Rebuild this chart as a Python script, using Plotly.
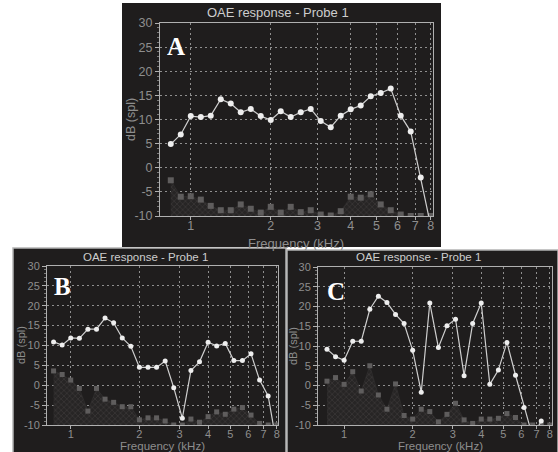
import plotly.graph_objects as go
import math

W, H = 558, 452

# ---------------- data ----------------
freq_khz = [0.841, 0.917, 1.000, 1.091, 1.189, 1.297, 1.414, 1.542, 1.682, 1.834,
            2.000, 2.181, 2.378, 2.594, 2.828, 3.084, 3.364, 3.668, 4.000, 4.362,
            4.757, 5.187, 5.657, 6.169, 6.727, 7.336, 8.000]

resp_a = [4.9, 6.9, 10.7, 10.5, 10.8, 14.2, 13.3, 11.5, 12.2, 10.7,
          9.9, 11.7, 10.5, 11.5, 12.2, 9.7, 8.4, 10.8, 12.1, 12.9,
          14.8, 15.5, 16.4, 10.8, 7.5, -2.0, -12.0]
noise_a = [-2.6, -6.0, -5.9, -6.6, -7.9, -8.8, -8.8, -7.6, -8.5, -9.3,
           -8.1, -9.3, -8.1, -9.2, -8.8, -9.7, -9.9, -9.0, -6.0, -6.2,
           -5.5, -7.6, -8.8, -9.7, -10.0, -10.0, -10.0]

resp_b = [10.9, 10.1, 11.9, 11.8, 14.1, 14.1, 16.9, 15.7, 11.9, 9.8,
          4.5, 4.5, 4.5, 6.1, -0.6, -8.3, 3.7, 5.9, 10.8, 9.9,
          10.5, 6.2, 6.2, 7.9, 1.3, -2.7, -15.0]
noise_b = [3.6, 2.7, 1.3, -0.8, -6.5, -0.8, -3.5, -4.3, -5.4, -5.4,
           -8.7, -8.2, -8.2, -9.0, -10.0, -10.0, -8.5, -9.3, -7.9, -6.7,
           -7.3, -6.0, -5.6, -7.5, -9.6, -10.0, -10.0]

resp_c = [9.2, 7.3, 6.4, 11.2, 11.2, 19.3, 22.6, 21.0, 18.0, 15.7,
          8.9, -1.7, 20.9, 9.6, 15.1, 16.8, 2.5, 15.7, 20.9, 0.3,
          3.9, 10.9, 2.6, -5.6, -13.0, -9.0, None]
noise_c = [1.1, 2.0, 0.3, 3.5, -1.4, 5.0, -2.4, -6.0, 0.4, -7.6,
           -8.5, -6.0, -6.6, -9.2, -7.3, -4.5, -8.7, -9.6, -8.5, -8.5,
           -8.3, -7.1, -8.1, -10.0, -10.0, -10.0, -10.0]

x_ticks = [1, 2, 3, 4, 5, 6, 7, 8]
x_tick_labels = ["1", "2", "3", "4", "5", "6", "7", "8"]
y_ticks = [-10, -5, 0, 5, 10, 15, 20, 25, 30]
y_tick_labels = ["-10", "-5", "0", "5", "10", "15", "20", "25", "30"]
Y_MIN, Y_MAX = -10, 30

title_text = "OAE response - Probe 1"
x_title = "Frequency (kHz)"
y_title = "dB (spl)"
panel_letters = ["A", "B", "C"]

# ---------------- layout helpers ----------------
def fx(p):
    return p / W

def fy(p):
    return 1 - p / H

BG = "#1f1d1d"
GRID = "#8f8f8f"
AXLINE = "#b0b0b0"
TICKC = "#8e8e8e"
TITLEC = "#cdcdcd"
FONT = "Liberation Sans, Arial, sans-serif"

panels = [
    dict(ax="", plot=(160, 23, 433, 216), box=(122, 3, 441, 247), border=False,
         xr=(0.766, 8.16), fs=12.5, msize=6, ssize=6, xstand=-5,
         title=(278, 12), xt=(296, 243), yt=(131, 120), letter=(176, 46)),
    dict(ax="2", plot=(47, 266, 278, 425), box=(13, 248, 286, 453), border=True,
         xr=(0.787, 8.1), fs=11, msize=5, ssize=5, xstand=-4,
         title=(145, 257), xt=(162, 446), yt=(21, 345), letter=(62, 286)),
    dict(ax="3", plot=(318, 267, 552, 425), box=(287, 250, 558, 453), border=True,
         xr=(0.768, 8.18), fs=11, msize=5, ssize=5, xstand=-4,
         title=(418, 257), xt=(440, 446), yt=(293, 346), letter=(336, 291)),
]
resp_all = [resp_a, resp_b, resp_c]
noise_all = [noise_a, noise_b, noise_c]

fig = go.Figure()
shapes = []
annotations = []
layout_axes = {}

for i, p in enumerate(panels):
    sfx = p["ax"]
    xa = "x" + sfx
    ya = "y" + sfx
    baseline = [Y_MIN for _ in freq_khz]
    fig.add_trace(go.Scatter(x=freq_khz, y=baseline, xaxis=xa, yaxis=ya, mode="lines",
                             line=dict(width=0, color="rgba(0,0,0,0)"),
                             showlegend=False, hoverinfo="skip"))
    fig.add_trace(go.Scatter(x=freq_khz, y=noise_all[i], xaxis=xa, yaxis=ya,
                             mode="lines+markers", fill="tonexty",
                             fillcolor="#2a2828",
                             fillpattern=dict(shape="x", fgcolor="#4a4747", bgcolor="#272525",
                                              size=4, solidity=0.35),
                             line=dict(width=0.5, color="#343232"),
                             marker=dict(symbol="square", size=p["ssize"], color="#5f5d5d"),
                             showlegend=False, hoverinfo="skip"))
    fig.add_trace(go.Scatter(x=freq_khz, y=resp_all[i], xaxis=xa, yaxis=ya,
                             mode="lines+markers", connectgaps=False,
                             line=dict(width=1.2, color="#cfcfcf"),
                             marker=dict(symbol="circle", size=p["msize"], color="#eeeeee"),
                             showlegend=False))

    x0, y0, x1, y1 = p["plot"]
    key = sfx
    layout_axes["xaxis" + key] = dict(
        type="log", range=[math.log10(p["xr"][0]), math.log10(p["xr"][1])],
        domain=[fx(x0), fx(x1)], anchor=ya, automargin=False,
        tickmode="array", tickvals=x_ticks, ticktext=x_tick_labels,
        ticks="outside", ticklen=3, tickcolor=AXLINE, tickwidth=1,
        ticklabelstandoff=p["xstand"],
        showline=True, linecolor=AXLINE, linewidth=1, mirror=True,
        showgrid=True, gridcolor=GRID, gridwidth=1, griddash="2px,3px",
        zeroline=False, tickfont=dict(family=FONT, size=p["fs"], color=TICKC),
        fixedrange=True)
    layout_axes["yaxis" + key] = dict(
        range=[Y_MIN, Y_MAX], domain=[fy(y1), fy(y0)], anchor=xa, automargin=False,
        tickmode="array", tickvals=y_ticks, ticktext=y_tick_labels,
        ticks="outside", ticklen=4, tickcolor=AXLINE, tickwidth=1,
        minor=dict(dtick=1, ticks="outside", ticklen=2, tickcolor="#7a7a7a", showgrid=False),
        showline=True, linecolor=AXLINE, linewidth=1, mirror=True,
        showgrid=True, gridcolor=GRID, gridwidth=1, griddash="2px,3px",
        zeroline=False, tickfont=dict(family=FONT, size=p["fs"], color=TICKC),
        fixedrange=True)

    bx0, by0, bx1, by1 = p["box"]
    shapes.append(dict(type="rect", xref="paper", yref="paper", layer="below",
                       x0=fx(bx0), x1=fx(bx1), y0=fy(by1), y1=fy(by0),
                       fillcolor=BG,
                       line=dict(width=1.5 if p["border"] else 0, color="#b4b4b4")))

    tx, ty = p["title"]
    annotations.append(dict(x=fx(tx), y=fy(ty), xref="paper", yref="paper",
                            text=title_text, showarrow=False, xanchor="center", yanchor="middle",
                            font=dict(family=FONT, size=p["fs"] + 0.5, color=TITLEC)))
    tx, ty = p["xt"]
    annotations.append(dict(x=fx(tx), y=fy(ty), xref="paper", yref="paper",
                            text=x_title, showarrow=False, xanchor="center", yanchor="middle",
                            font=dict(family=FONT, size=p["fs"] + 0.5, color=TICKC)))
    tx, ty = p["yt"]
    annotations.append(dict(x=fx(tx), y=fy(ty), xref="paper", yref="paper",
                            text=y_title, showarrow=False, xanchor="center", yanchor="middle",
                            textangle=-90,
                            font=dict(family=FONT, size=p["fs"], color=TICKC)))
    tx, ty = p["letter"]
    annotations.append(dict(x=fx(tx), y=fy(ty), xref="paper", yref="paper",
                            text="<b>" + panel_letters[i] + "</b>", showarrow=False,
                            xanchor="center", yanchor="middle",
                            font=dict(family="Liberation Serif, Times New Roman, serif",
                                      size=25, color="#ffffff")))

fig.update_layout(
    width=W, height=H, margin=dict(l=0, r=0, t=0, b=0, pad=0, autoexpand=False),
    paper_bgcolor="#ffffff", plot_bgcolor=BG,
    showlegend=False, shapes=shapes, annotations=annotations,
    **layout_axes,
)

fig.write_html("out.html", config={"displayModeBar": False},
               post_script="document.body.style.margin='0px';document.body.style.padding='0px';"
                           "document.body.style.overflow='hidden';")
